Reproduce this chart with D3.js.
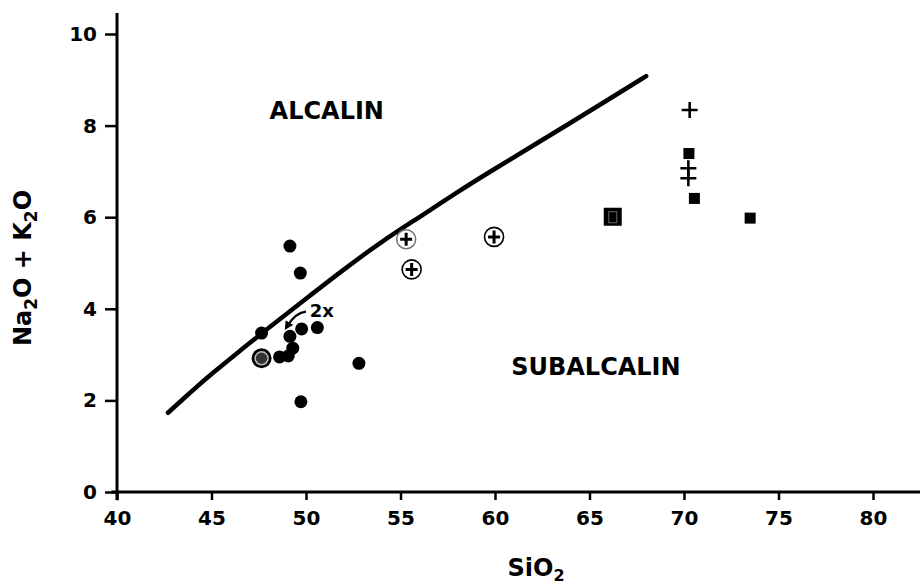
<!DOCTYPE html>
<html><head><meta charset="utf-8">
<script src="https://cdn.jsdelivr.net/npm/d3@7"></script>
<style>body{margin:0;background:#fff}svg{display:block}</style>
</head><body>
<script>
// ---- data ----
const xTicks = [40,45,50,55,60,65,70,75,80];
const yTicks = [0,2,4,6,8,10];
// dividing curve (alkaline / subalkaline)
const curveX = [42.7,44,45,46.5,48,50,52,54,56,58,60,62,64,66,68];
const curveY = [1.73,2.22,2.58,3.08,3.58,4.22,4.86,5.47,6.0,6.55,7.06,7.56,8.06,8.57,9.08];
// filled circles (basalts)
const dotX = [49.15,49.7,47.65,49.15,49.77,50.6,49.3,48.6,49.06,52.8,49.73];
const dotY = [5.37,4.78,3.47,3.40,3.56,3.59,3.14,2.95,2.97,2.81,1.97];
// circled dot
const ringDotX = [47.65];
const ringDotY = [2.92];
// circled plus
const cplusX = [55.3,55.59,59.95];
const cplusY = [5.52,4.86,5.57];
// squares
const bigSqX = [66.23];
const bigSqY = [6.01];
const sqX = [70.26,70.55,73.5];
const sqY = [7.39,6.41,5.98];
// plus signs
const plusX = [70.3,70.23,70.23];
const plusY = [8.34,7.07,6.85];

const W = 920, H = 588;
const FONT = "'DejaVu Sans', sans-serif";
const svg = d3.select("body").append("svg").attr("width", W).attr("height", H);
const x = d3.scaleLinear().domain([40,80]).range([117,873]);
const y = d3.scaleLinear().domain([0,10]).range([492,34]);

// axes
const gx = svg.append("g").attr("transform", `translate(0,${y(0)})`)
  .call(d3.axisBottom(x).tickValues(xTicks).tickSize(8).tickSizeOuter(0).tickPadding(11));
gx.select(".domain").remove();
gx.selectAll(".tick line").attr("stroke","#000").attr("stroke-width",2.5);
gx.selectAll(".tick text").attr("font-family",FONT).attr("font-weight","bold").attr("font-size",20).attr("fill","#000");

const gy = svg.append("g").attr("transform", `translate(${x(40)},0)`)
  .call(d3.axisLeft(y).tickValues(yTicks).tickSize(12).tickSizeOuter(0).tickPadding(8));
gy.select(".domain").remove();
gy.selectAll(".tick line").attr("stroke","#000").attr("stroke-width",2.5);
gy.selectAll(".tick text").attr("font-family",FONT).attr("font-weight","bold").attr("font-size",20).attr("fill","#000");

svg.append("line").attr("x1", x(39.7)).attr("x2", W).attr("y1", y(0)).attr("y2", y(0))
  .attr("stroke","#000").attr("stroke-width",3);
svg.append("line").attr("x1", x(40)).attr("x2", x(40)).attr("y1", y(-0.18)).attr("y2", y(10.46))
  .attr("stroke","#000").attr("stroke-width",3);

// axis titles
const xt = svg.append("text").attr("x", 536).attr("y", 576).attr("text-anchor","middle")
  .attr("font-family",FONT).attr("font-weight","bold").attr("font-size",24);
xt.append("tspan").text("SiO");
xt.append("tspan").attr("dy",5).attr("font-size",16).text("2");

const yt = svg.append("text").attr("transform","translate(31,268) rotate(-90)").attr("text-anchor","middle")
  .attr("font-family",FONT).attr("font-weight","bold").attr("font-size",24);
yt.append("tspan").text("Na");
yt.append("tspan").attr("dy",6).attr("font-size",17).text("2");
yt.append("tspan").attr("dy",-6).text("O + K");
yt.append("tspan").attr("dy",6).attr("font-size",17).text("2");
yt.append("tspan").attr("dy",-6).text("O");

// region labels
svg.append("text").attr("x", x(51.1)).attr("y", y(8.14)).attr("text-anchor","middle")
  .attr("font-family",FONT).attr("font-weight","bold").attr("font-size",24).text("ALCALIN");
svg.append("text").attr("x", x(65.34)).attr("y", y(2.55)).attr("text-anchor","middle")
  .attr("font-family",FONT).attr("font-weight","bold").attr("font-size",24).text("SUBALCALIN");

// curve
const curvePts = curveX.map((v,i)=>[v, curveY[i]]);
svg.append("path").datum(curvePts)
  .attr("d", d3.line().x(d=>x(d[0])).y(d=>y(d[1])).curve(d3.curveBasis))
  .attr("fill","none").attr("stroke","#000").attr("stroke-width",4.5).attr("stroke-linecap","round");

// filled dots
svg.append("g").selectAll("circle").data(dotX.map((v,i)=>[v,dotY[i]])).join("circle")
  .attr("cx", d=>x(d[0])).attr("cy", d=>y(d[1])).attr("r", 6.5).attr("fill","#000");

// ringed dot
const rd = svg.append("g").selectAll("g").data(ringDotX.map((v,i)=>[v,ringDotY[i]])).join("g")
  .attr("transform", d=>`translate(${x(d[0])},${y(d[1])})`);
rd.append("circle").attr("r",10).attr("fill","#000");
rd.append("circle").attr("r",6.5).attr("fill","#333").attr("stroke","#bbb").attr("stroke-width",1.5);

// circled plus
const cp = svg.append("g").selectAll("g").data(cplusX.map((v,i)=>[v,cplusY[i]])).join("g")
  .attr("transform", d=>`translate(${x(d[0])},${y(d[1])})`);
cp.append("circle").attr("r",9.5).attr("fill","#fff").attr("stroke",(d,i)=>i===0?"#777":"#000").attr("stroke-width",1.6);
cp.append("path").attr("d","M-6,0H6M0,-6.5V6.5").attr("stroke","#000").attr("stroke-width",3);

// squares
svg.append("g").selectAll("rect").data(bigSqX.map((v,i)=>[v,bigSqY[i]])).join("rect")
  .attr("x", d=>x(d[0])-9).attr("y", d=>y(d[1])-9).attr("width",18).attr("height",18).attr("fill","#000");
svg.append("g").selectAll("rect").data(bigSqX.map((v,i)=>[v,bigSqY[i]])).join("rect")
  .attr("x", d=>x(d[0])-4).attr("y", d=>y(d[1])-5).attr("width",8).attr("height",11)
  .attr("fill","none").attr("stroke","#666").attr("stroke-width",1);
svg.append("g").selectAll("rect").data(sqX.map((v,i)=>[v,sqY[i]])).join("rect")
  .attr("x", d=>x(d[0])-5.5).attr("y", d=>y(d[1])-5.5).attr("width",11).attr("height",11).attr("fill","#000");

// plus signs
svg.append("g").selectAll("path").data(plusX.map((v,i)=>[v,plusY[i]])).join("path")
  .attr("transform", d=>`translate(${x(d[0])},${y(d[1])})`)
  .attr("d","M-8,0H8M0,-8V8").attr("stroke","#000").attr("stroke-width",2.6);

// "2x" annotation
svg.append("defs").append("marker").attr("id","ah").attr("viewBox","0 0 10 10")
  .attr("refX",5).attr("refY",5).attr("markerWidth",4).attr("markerHeight",4).attr("orient","auto")
  .append("path").attr("d","M0,0L10,5L0,10z").attr("fill","#000");
svg.append("text").attr("x", x(50.2)).attr("y", y(3.82)).attr("font-family",FONT).attr("font-weight","bold")
  .attr("font-size",18).text("2x");
svg.append("path")
  .attr("d", `M${x(50.0)},${y(3.94)} Q${x(49.45)},${y(3.92)} ${x(49.0)},${y(3.62)}`)
  .attr("fill","none").attr("stroke","#000").attr("stroke-width",2.2).attr("marker-end","url(#ah)");
</script>
</body></html>
